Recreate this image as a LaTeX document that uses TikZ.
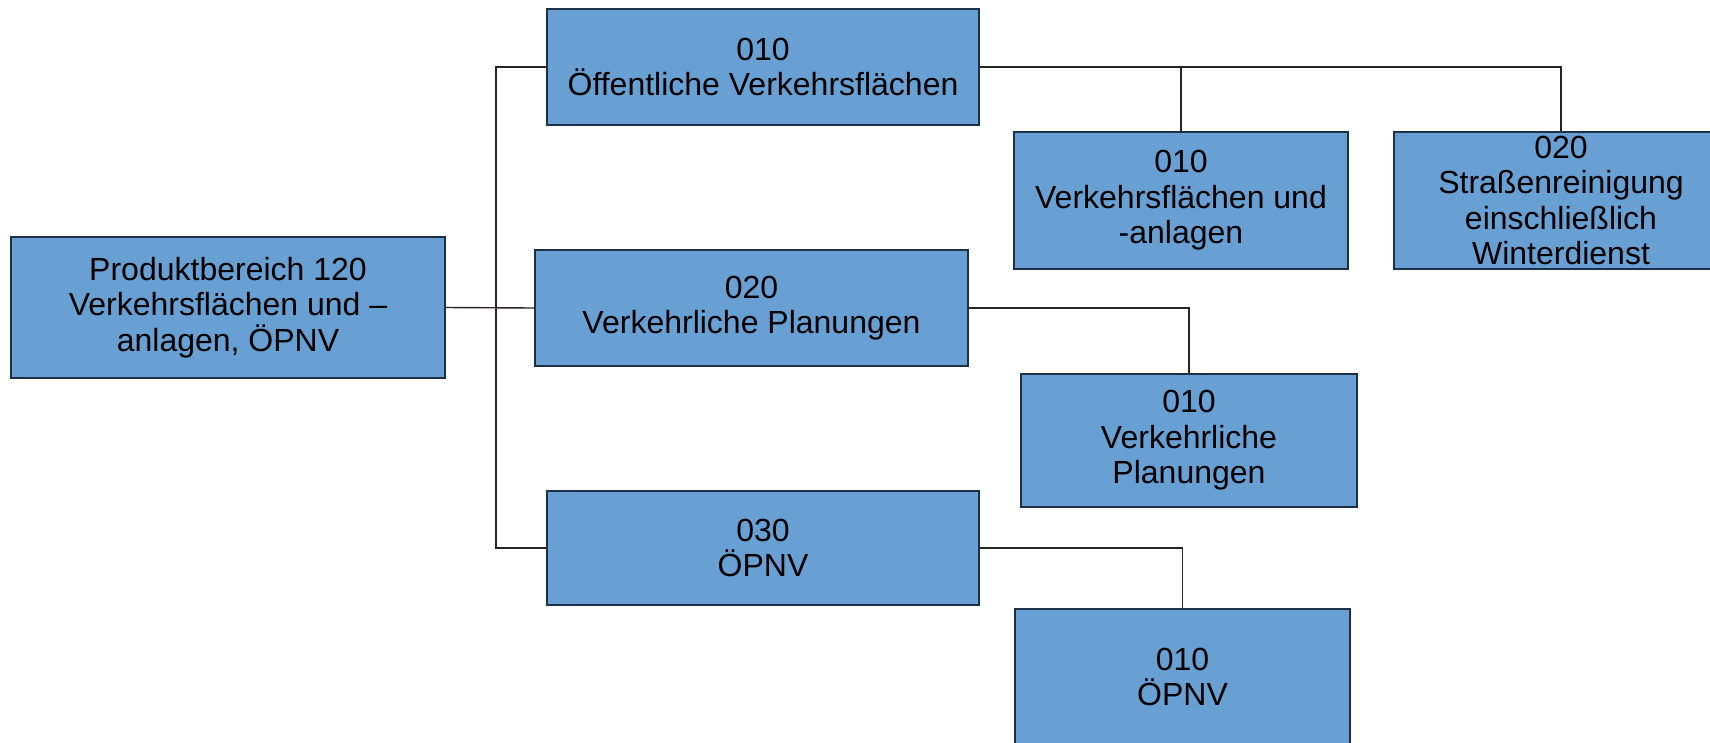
\documentclass[tikz,border=0pt]{standalone}
\usepackage{fontspec}
\setmainfont{Liberation Sans}
\begin{document}
\begin{tikzpicture}[x=1pt,y=-1pt,
  box/.style={draw=boxline, line width=1.6pt, fill=boxfill, inner sep=0pt,
    align=center, text=black, font=\fontsize{32}{35.5}\selectfont},
  link/.style={draw=linkcol, line width=1.4pt}]
\definecolor{boxfill}{RGB}{104,160,212}
\definecolor{boxline}{RGB}{30,48,72}
\definecolor{linkcol}{RGB}{40,36,36}
\useasboundingbox (0,0) rectangle (1710,742);
\clip (0,0) rectangle (1710,742);
\fill[white] (0,0) rectangle (1710,742);

% product area and its three product groups
\node[box, minimum width=434pt, minimum height=141pt] (root) at (228,307.5)
  {Produktbereich 120\\Verkehrsflächen und –\\anlagen, ÖPNV};
\node[box, minimum width=432pt, minimum height=116pt] (pa) at (763,67)
  {010\\Öffentliche Verkehrsflächen};
\node[box, minimum width=433pt, minimum height=116pt] (pb) at (751.5,308)
  {020\\Verkehrliche Planungen};
\node[box, minimum width=432pt, minimum height=114pt] (pc) at (763,548)
  {030\\ÖPNV};

% products
\node[box, minimum width=334pt, minimum height=137pt] (pa1) at (1181,200.5)
  {010\\Verkehrsflächen und\\-anlagen};
\node[box, minimum width=334pt, minimum height=137pt] (pa2) at (1561,200.5)
  {020\\Straßenreinigung\\einschließlich\\Winterdienst};
\node[box, minimum width=336pt, minimum height=133pt] (pb1) at (1189,440.5)
  {010\\Verkehrliche\\Planungen};
\node[box, minimum width=335pt, minimum height=136pt] (pc1) at (1182.5,677)
  {010\\ÖPNV};

% trunk from the product area to the groups
\coordinate (trunk) at (496,0);
\draw[link] (root.east) -- (pb.west);
\draw[link] (pa.west) -| (trunk |- pc.west) -- (pc.west);

% groups to their products
\draw[link] (pa.east) -| (pa1.north);
\draw[link] (pa.east) -| (pa2.north);
\draw[link] (pb.east) -| (pb1.north);
\draw[link] (pc.east) -| (pc1.north);
\end{tikzpicture}
\end{document}
